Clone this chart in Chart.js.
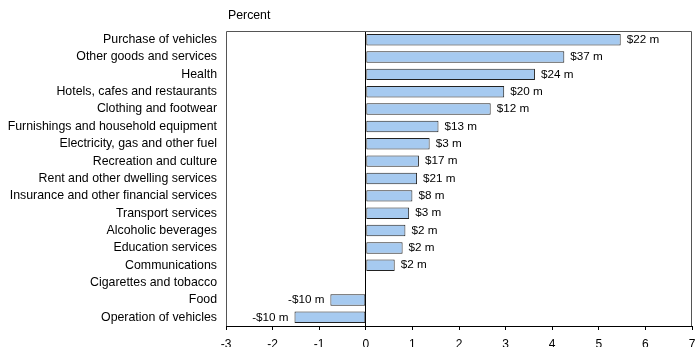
<!DOCTYPE html>
<html><head><meta charset="utf-8">
<script src="https://cdn.jsdelivr.net/npm/chart.js@4/dist/chart.umd.min.js"></script>
<style>html,body{margin:0;padding:0;background:#fff}#wrap{width:698px;height:347px}</style>
</head><body><div id="wrap"><canvas id="c" width="698" height="347"></canvas></div>
<script>
const categories = [
  "Purchase of vehicles",
  "Other goods and services",
  "Health",
  "Hotels, cafes and restaurants",
  "Clothing and footwear",
  "Furnishings and household equipment",
  "Electricity, gas and other fuel",
  "Recreation and culture",
  "Rent and other dwelling services",
  "Insurance and other financial services",
  "Transport services",
  "Alcoholic beverages",
  "Education services",
  "Communications",
  "Cigarettes and tobacco",
  "Food",
  "Operation of vehicles"
];
const percentChange = [5.47, 4.26, 3.63, 2.97, 2.68, 1.56, 1.37, 1.14, 1.10, 1.00, 0.93, 0.85, 0.79, 0.62, 0, -0.76, -1.53];
const dollarLabels = ["$22 m", "$37 m", "$24 m", "$20 m", "$12 m", "$13 m", "$3 m", "$17 m", "$21 m", "$8 m", "$3 m", "$2 m", "$2 m", "$2 m", "", "-$10 m", "-$10 m"];
const axisMin = -3;
const axisMax = 7;
const axisTitle = "Percent";

const FONT = "Arial, 'Liberation Sans', sans-serif";

const boxPlugin = {
  id: 'box',
  beforeDatasetsDraw(chart) {
    const a = chart.chartArea, ctx = chart.ctx;
    ctx.save();
    ctx.strokeStyle = '#555';
    ctx.lineWidth = 1;
    ctx.beginPath();
    ctx.moveTo(a.left + 0.5, a.bottom);
    ctx.lineTo(a.left + 0.5, a.top + 0.5);
    ctx.lineTo(a.right - 0.5, a.top + 0.5);
    ctx.lineTo(a.right - 0.5, a.bottom);
    ctx.stroke();
    ctx.restore();
  },
  afterDraw(chart) {
    const a = chart.chartArea, ctx = chart.ctx;
    ctx.save();
    ctx.font = '12.3px ' + FONT;
    ctx.fillStyle = '#000';
    ctx.textAlign = 'left';
    ctx.textBaseline = 'middle';
    ctx.fillText(axisTitle, a.left + 2, 16);
    ctx.restore();
  }
};

const labelPlugin = {
  id: 'barLabels',
  afterDatasetsDraw(chart) {
    const meta = chart.getDatasetMeta(0);
    const ctx = chart.ctx;
    ctx.save();
    ctx.font = '11.7px ' + FONT;
    ctx.fillStyle = '#000';
    ctx.textBaseline = 'middle';
    meta.data.forEach((el, i) => {
      const v = percentChange[i];
      const t = dollarLabels[i];
      if (!t || v === 0) return;
      if (v > 0) { ctx.textAlign = 'left'; ctx.fillText(t, el.x + 6, el.y); }
      else { ctx.textAlign = 'right'; ctx.fillText(t, el.x - 6, el.y); }
    });
    ctx.restore();
  }
};

new Chart(document.getElementById('c'), {
  type: 'bar',
  data: {
    labels: categories,
    datasets: [{
      data: percentChange,
      backgroundColor: '#A6CAF0',
      borderColor: '#222',
      borderWidth: 1,
      borderSkipped: false,
      barPercentage: 0.66,
      categoryPercentage: 1.0
    }]
  },
  options: {
    indexAxis: 'y',
    responsive: false,
    animation: false,
    devicePixelRatio: 1,
    layout: { padding: { top: 31, right: 6, left: 0, bottom: 0 } },
    plugins: { legend: { display: false }, tooltip: { enabled: false }, title: { display: false } },
    scales: {
      x: {
        min: axisMin, max: axisMax,
        afterFit(scale) { scale.height = 21; scale.paddingRight = 0; scale.paddingLeft = 0; },
        ticks: { stepSize: 1, color: '#000', font: { family: FONT, size: 12 }, padding: 7, maxRotation: 0 },
        grid: {
          drawOnChartArea: true,
          color: c => (c.tick && c.tick.value === 0) ? '#000' : 'rgba(0,0,0,0)',
          tickColor: '#000',
          tickLength: 4,
          lineWidth: 1
        },
        border: { display: true, color: '#000', width: 1 }
      },
      y: {
        afterFit(scale) { scale.width = 226; },
        ticks: { color: '#000', font: { family: FONT, size: 12.35 }, padding: 9, autoSkip: false },
        grid: { display: false, drawTicks: false },
        border: { display: false }
      }
    }
  },
  plugins: [boxPlugin, labelPlugin]
});
</script>
</body></html>
